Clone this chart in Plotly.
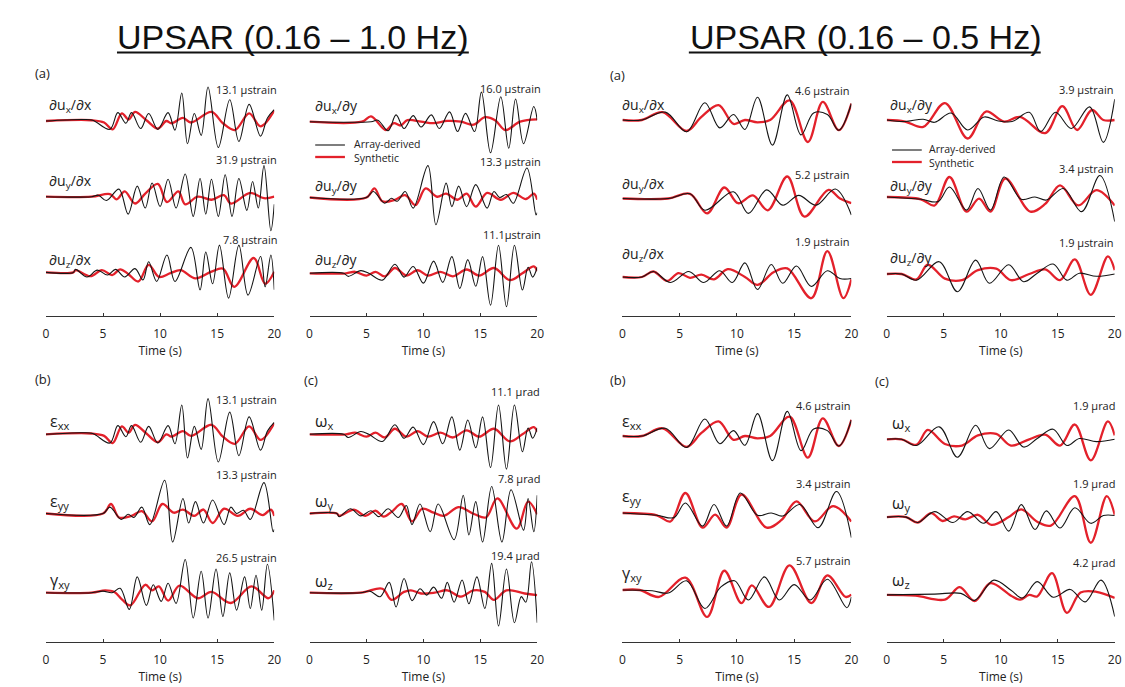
import plotly.graph_objects as go

W, H = 1125, 687
BLACK = "#151515"
RED = "#e3212b"
FONT = "Open Sans"

# ---------------- data: (time [s], amplitude normalised to row spacing) ----------------
# ===== Left half: UPSAR 0.16-1.0 Hz =====
L_dux_dx_black = [(0, 0), (3.2, 0.02), (4.1, 0.01), (5.6, -0.11), (6.3, 0.11), (7.0, -0.03), (7.5, 0.11), (8.3, -0.10),
                  (9.0, 0.10), (9.8, -0.11), (10.7, 0.11), (11.3, -0.12), (11.9, 0.37), (12.4, -0.30), (13.0, 0.10),
                  (13.6, -0.19), (14.2, 0.45), (15.1, -0.35), (16.1, 0.28), (16.9, -0.27), (17.8, 0.22), (18.8, -0.20),
                  (19.4, 0.04), (20, 0.15)]
L_dux_dx_red = [(0, 0), (4.0, 0.01), (5.1, -0.02), (5.85, -0.11), (6.65, 0.10), (7.25, 0.02), (7.8, 0.12), (8.8, 0.01),
                (9.8, -0.10), (10.55, 0.0), (11.0, -0.03), (12.0, 0.04), (12.7, -0.02), (14.5, 0.12), (15.5, -0.03),
                (16.55, -0.12), (17.8, 0.10), (18.8, -0.07), (20, 0.14)]
L_duy_dx_black = [(0, 0), (4.0, 0), (4.6, 0.02), (5.3, -0.05), (6.4, 0.10), (7.2, -0.23), (8.0, 0.14), (8.7, -0.15),
                  (9.3, 0.18), (10.0, -0.13), (10.7, 0.23), (11.4, -0.15), (12.2, 0.30), (12.9, -0.26), (13.5, 0.24),
                  (14.0, -0.23), (14.5, 0.23), (15.1, -0.26), (15.7, 0.29), (16.3, -0.26), (16.9, 0.24), (17.6, -0.18),
                  (18.1, 0.20), (18.6, -0.15), (19.1, 0.41), (19.7, -0.45), (20, -0.10)]
L_duy_dx_red = [(0, 0), (4.0, 0), (5.6, 0.035), (6.2, -0.035), (6.9, 0.07), (7.8, -0.09), (8.7, 0.04), (9.8, 0.17),
                (10.6, -0.07), (11.6, 0.07), (12.2, -0.10), (13.3, 0.0), (14.5, -0.04), (15.6, 0.02), (16.2, -0.09),
                (17.9, 0.05), (19.1, -0.02), (20, 0)]
L_duz_dx_black = [(0, 0), (2.4, 0), (2.6, 0.04), (3.6, -0.06), (4.5, 0.03), (5.4, -0.035), (6.1, 0.04), (6.9, -0.06),
                  (7.8, 0.05), (8.5, -0.10), (9.0, 0.14), (9.7, -0.12), (10.6, 0.23), (11.3, -0.12), (12.7, 0.33),
                  (13.5, -0.23), (14.0, 0.27), (14.6, -0.15), (15.2, 0.36), (16.0, -0.34), (16.9, 0.36), (17.7, -0.30),
                  (18.8, 0.21), (19.2, -0.19), (19.7, 0.23), (20, -0.23)]
L_duz_dx_red = [(0, 0), (2.4, 0), (2.6, 0.03), (3.9, -0.05), (4.9, 0.03), (5.8, -0.035), (6.5, 0.04), (7.2, -0.02),
                (8.1, -0.12), (9.0, 0.10), (9.9, -0.06), (10.9, -0.01), (11.8, 0.03), (13.1, -0.08), (14.5, 0.01),
                (15.5, 0.05), (16.5, -0.19), (18.2, 0.19), (19.2, -0.15), (20, 0.01)]
L_dux_dy_black = [(0, 0), (5.4, 0), (6.0, 0.02), (6.9, -0.12), (7.6, 0.09), (8.3, -0.09), (9.1, 0.08), (9.8, -0.07),
                  (10.7, 0.09), (11.4, -0.09), (12.3, 0.13), (13.0, -0.13), (13.7, 0.11), (14.5, -0.13), (15.1, 0.39),
                  (15.9, -0.41), (16.8, 0.33), (17.5, -0.35), (18.1, 0.30), (18.8, -0.29), (19.7, 0.20), (20, 0.02)]
L_dux_dy_red = [(0, 0), (4.6, 0), (5.4, 0.07), (6.7, -0.11), (7.4, -0.02), (8.0, -0.05), (8.6, 0.02), (9.8, 0.0),
                (10.9, -0.02), (12.1, 0.01), (13.3, 0.0), (14.4, -0.04), (15.4, 0.06), (16.3, 0.02), (17.2, -0.11),
                (18.5, 0.0), (20, 0.03)]
L_duy_dy_black = [(0, 0), (5.0, 0), (5.6, 0.08), (6.6, -0.075), (7.2, -0.01), (7.7, -0.05), (8.4, 0.08), (9.1, -0.14),
                  (10.4, 0.42), (11.1, -0.36), (12.0, 0.19), (12.5, -0.12), (13.1, 0.15), (13.8, -0.12), (14.6, 0.17),
                  (15.6, -0.14), (16.2, 0.08), (16.7, 0.0), (17.3, 0.04), (17.9, -0.075), (19.1, 0.39), (19.9, -0.23),
                  (20, -0.20)]
L_duy_dy_red = [(0, 0), (5.0, 0), (5.7, 0.12), (6.4, -0.05), (7.5, -0.03), (8.4, 0.03), (9.3, -0.10), (10.2, 0.12),
                (11.2, 0.01), (12.0, 0.05), (13.0, -0.03), (13.8, 0.05), (14.6, -0.12), (15.6, 0.06), (16.8, -0.03),
                (17.9, 0.06), (19.0, -0.02), (19.7, 0.05), (20, -0.03)]
L_duz_dy_black = [(0, 0), (3.0, 0), (3.4, -0.04), (4.5, 0.035), (5.2, 0.0), (6.4, -0.09), (7.5, 0.12), (8.3, -0.05),
                  (9.1, 0.09), (10.0, -0.13), (10.9, 0.16), (11.7, -0.12), (12.5, 0.22), (13.2, -0.20), (13.9, 0.18),
                  (14.6, -0.17), (15.2, 0.22), (15.9, -0.42), (16.6, 0.37), (17.3, -0.44), (18.0, 0.37), (18.7, -0.22),
                  (19.2, 0.08), (19.6, -0.05), (20, 0.08)]
L_duz_dy_red = [(0, 0), (3.2, 0), (4.0, 0.02), (5.0, -0.03), (5.8, 0.02), (6.6, -0.04), (7.5, 0.07), (8.5, -0.03),
                (9.5, 0.04), (10.4, -0.03), (11.5, 0.02), (12.6, -0.04), (13.8, 0.05), (14.9, -0.03), (16.2, 0.07),
                (17.6, -0.09), (18.7, 0.0), (19.7, 0.09), (20, 0.03)]
L_gxy_black = [(0, 0), (4.0, 0), (5.0, 0.02), (5.8, 0.0), (6.5, 0.055), (7.3, -0.21), (8.0, 0.20), (8.8, -0.16),
               (9.4, 0.10), (10.1, -0.11), (10.7, 0.12), (11.4, -0.135), (12.2, 0.42), (12.9, -0.32), (13.6, 0.27),
               (14.2, -0.32), (14.9, 0.30), (15.5, -0.30), (16.1, 0.25), (16.7, -0.22), (17.4, 0.20), (17.9, -0.20),
               (18.4, 0.22), (18.9, -0.22), (19.4, 0.36), (20, -0.35)]
L_gxy_red = [(0, 0), (4.0, 0), (5.2, 0.03), (6.0, 0.01), (6.7, -0.09), (7.4, -0.16), (8.7, 0.10), (9.3, 0.03),
             (9.9, 0.08), (10.7, -0.10), (11.7, 0.09), (13.3, -0.07), (14.5, 0.01), (16.2, -0.13), (18.0, 0.08),
             (19.5, -0.07), (20, 0.03)]
L_omega_y_black = [(0, 0), (2.4, 0), (2.6, -0.04), (3.6, 0.06), (4.5, -0.03), (5.4, 0.035), (6.1, -0.04), (6.9, 0.06),
                   (7.8, -0.05), (8.5, 0.10), (9.0, -0.14), (9.7, 0.12), (10.6, -0.23), (11.3, 0.12), (12.7, -0.33),
                   (13.5, 0.23), (14.0, -0.27), (14.6, 0.15), (15.2, -0.36), (16.0, 0.34), (16.9, -0.36), (17.7, 0.30),
                   (18.8, -0.21), (19.2, 0.19), (19.7, -0.23), (20, 0.23)]
L_omega_y_red = [(0, 0), (2.4, 0), (2.6, -0.03), (3.9, 0.05), (4.9, -0.03), (5.8, 0.035), (6.5, -0.04), (7.2, 0.02),
                 (8.1, 0.12), (9.0, -0.10), (9.9, 0.06), (10.9, 0.01), (11.8, -0.03), (13.1, 0.08), (14.5, -0.01),
                 (15.5, -0.05), (16.5, 0.19), (18.2, -0.19), (19.2, 0.15), (20, -0.01)]
L_omega_z_black = [(0, 0), (4.5, 0), (5.3, 0.02), (6.2, -0.05), (7.0, 0.13), (7.6, -0.18), (8.3, 0.18), (9.0, -0.10),
                   (9.7, 0.05), (10.3, -0.03), (10.9, 0.07), (11.6, -0.07), (12.1, 0.13), (12.7, -0.12), (13.4, 0.16),
                   (14.0, -0.14), (14.7, 0.20), (15.4, -0.20), (16.0, 0.37), (16.6, -0.42), (17.3, 0.30), (18.0, -0.38),
                   (18.6, -0.05), (19.0, -0.12), (19.5, 0.39), (20, -0.38)]
L_omega_z_red = [(0, 0), (4.5, 0), (6.4, 0.05), (7.2, -0.09), (8.3, 0.01), (8.9, 0.03), (9.8, -0.01), (11.0, 0.0),
                 (12.1, 0.03), (13.3, -0.05), (14.4, 0.03), (15.4, 0.01), (16.2, -0.09), (17.3, 0.03), (18.9, -0.01),
                 (20, -0.03)]

# ===== Right half: UPSAR 0.16-0.5 Hz =====
R_dux_dx_black = [(0, 0), (1.7, 0.0), (3.75, 0.10), (5.6, -0.15), (7.2, 0.22), (8.5, -0.10), (9.7, 0.07), (10.7, -0.12),
                  (11.8, 0.29), (13.1, -0.32), (14.4, 0.32), (15.6, -0.19), (16.7, 0.09), (17.9, 0.07), (18.9, -0.13),
                  (20, 0.21)]
R_dux_dx_red = [(0, 0), (1.7, 0.0), (3.5, 0.10), (5.6, -0.14), (6.9, 0.04), (8.4, 0.19), (9.7, -0.05), (10.7, 0.0),
                (11.8, -0.03), (12.9, 0.0), (14.6, 0.25), (16.2, -0.28), (17.5, 0.23), (18.9, -0.13), (20, 0.21)]
R_duy_dx_black = [(0, 0), (4.0, 0), (5.9, 0.06), (7.2, -0.15), (9.7, 0.085), (11.0, -0.19), (12.6, 0.11), (14.0, -0.085),
                  (15.4, 0.04), (16.9, -0.085), (18.6, 0.12), (20, -0.21)]
R_duy_dx_red = [(0, 0), (4.0, 0), (5.9, 0.06), (7.4, -0.19), (8.9, 0.14), (10.1, -0.06), (11.4, 0.04), (12.7, -0.15),
                (14.4, 0.28), (15.9, -0.23), (18.0, 0.11), (19.0, 0.0), (20, -0.06)]
R_duz_dx_black = [(0, 0), (1.7, 0), (2.7, 0.07), (4.2, -0.07), (5.8, 0.07), (7.1, -0.07), (8.5, 0.08), (9.6, -0.07),
                  (10.7, 0.18), (11.8, -0.16), (13.0, 0.16), (14.0, -0.08), (15.2, 0.14), (16.5, -0.12), (17.9, 0.08),
                  (19.0, -0.02), (20, -0.02)]
R_duz_dx_red = [(0, 0), (1.7, 0), (2.7, 0.07), (3.9, -0.05), (4.9, 0.05), (5.9, -0.01), (6.9, 0.03), (8.0, -0.03),
                (9.2, 0.10), (10.7, 0.0), (11.8, -0.10), (13.2, 0.06), (14.4, 0.11), (16.5, -0.27), (17.9, 0.33),
                (19.3, -0.27), (20, -0.03)]
R_dux_dy_black = [(0, 0), (1.6, -0.02), (3.2, 0.01), (4.2, -0.03), (5.65, 0.09), (7.1, -0.13), (8.55, 0.04), (9.7, -0.01),
                  (11.0, -0.02), (12.5, 0.10), (13.5, -0.15), (14.8, 0.10), (16.2, -0.11), (17.8, 0.17), (19.0, -0.29),
                  (20, 0.27)]
R_dux_dy_red = [(0, 0), (1.6, -0.02), (3.2, -0.09), (5.1, 0.22), (7.1, -0.24), (8.7, 0.11), (10.3, -0.02), (11.7, 0.04),
                (13.9, -0.17), (15.4, 0.18), (16.7, -0.13), (18.0, 0.13), (19.0, 0.0), (20, 0.0)]
R_duy_dy_black = [(0, 0), (3.0, -0.03), (4.5, -0.06), (5.5, 0.13), (7.0, -0.17), (8.0, 0.11), (9.1, -0.17), (10.3, 0.26),
                  (11.8, -0.03), (13.0, 0.0), (14.0, -0.04), (15.5, 0.11), (17.1, -0.19), (18.7, 0.28), (20, -0.32)]
R_duy_dy_red = [(0, 0), (3.0, -0.03), (4.2, -0.11), (5.5, 0.26), (7.0, -0.19), (8.1, -0.02), (9.1, -0.19), (10.4, 0.24),
                (12.6, -0.19), (13.9, -0.09), (15.2, 0.15), (16.8, -0.11), (18.4, 0.09), (20, -0.11)]
R_duz_dy_black = [(0, 0), (1.3, 0.0), (2.6, -0.08), (4.6, 0.16), (6.2, -0.23), (7.8, 0.18), (9.0, -0.12), (10.7, 0.12),
                  (12.0, -0.10), (13.2, 0.01), (14.6, 0.13), (15.8, -0.08), (16.9, 0.01), (18.4, -0.03), (20, 0.0)]
R_duz_dy_red = [(0, 0), (1.3, 0.0), (2.6, -0.07), (3.6, 0.12), (5.1, -0.06), (6.6, -0.08), (8.0, 0.05), (9.6, 0.07),
                (10.9, -0.08), (12.5, 0.0), (13.9, 0.06), (15.2, -0.08), (16.5, 0.19), (17.9, -0.27), (19.4, 0.23),
                (20, 0.05)]
R_gxy_black = [(0, 0), (2.6, -0.01), (4.0, -0.04), (5.6, 0.12), (7.2, -0.24), (8.6, 0.04), (9.8, 0.12), (11.0, -0.13),
               (12.4, 0.17), (13.7, -0.13), (15.0, 0.07), (16.4, -0.13), (17.9, 0.14), (19.6, -0.23), (20, -0.09)]
R_gxy_red = [(0, 0), (1.5, 0), (3.2, -0.09), (5.5, 0.16), (7.4, -0.35), (8.9, 0.25), (10.4, -0.17), (11.3, 0.06),
             (12.8, -0.22), (14.6, 0.32), (16.5, -0.17), (17.9, 0.19), (19.5, -0.09), (20, -0.06)]
R_omega_y_black = [(0, 0), (1.7, 0), (2.7, -0.07), (4.2, 0.07), (5.8, -0.07), (7.1, 0.07), (8.5, -0.08), (9.6, 0.07),
                   (10.7, -0.18), (11.8, 0.16), (13.0, -0.16), (14.0, 0.08), (15.2, -0.14), (16.5, 0.12), (17.9, -0.08),
                   (19.0, 0.02), (20, 0.02)]
R_omega_y_red = [(0, 0), (1.7, 0), (2.7, -0.07), (3.9, 0.05), (4.9, -0.05), (5.9, 0.01), (6.9, -0.03), (8.0, 0.03),
                 (9.2, -0.10), (10.7, 0.0), (11.8, 0.10), (13.2, -0.06), (14.4, -0.11), (16.5, 0.27), (17.9, -0.33),
                 (19.3, 0.27), (20, 0.03)]
R_omega_z_black = [(0, 0), (4.2, 0.01), (6.5, 0.02), (7.7, -0.07), (9.4, 0.19), (10.9, 0.06), (11.9, -0.04), (13.2, 0.17),
                   (14.6, -0.03), (16.1, 0.07), (17.4, -0.09), (18.8, 0.19), (20, -0.28)]
R_omega_z_red = [(0, 0), (2.5, -0.01), (5.1, -0.06), (6.4, 0.10), (7.7, -0.08), (9.1, 0.15), (10.9, -0.01), (11.7, -0.06),
                 (12.5, 0.0), (13.2, -0.02), (14.5, 0.28), (15.8, -0.23), (17.0, 0.03), (18.4, 0.04), (20, -0.04)]

# strain = gradient identities: eps_xx = dux/dx, eps_yy = duy/dy, omega_x = duz/dy (same records)
TICKS = [0, 5, 10, 15, 20]

# ---------------- panel layout (pixel geometry) ----------------
panels = [
    dict(xpx=(43.3, 273.7), ypx=(68, 316), base=121.0, unit=75.7, lab_x=44, lab_y=[105, 181.7, 260], lab_size=14,
         amp_x=278, amp_y=[89, 159, 240],
         rows=[("∂u<sub>x</sub>/∂x", "13.1 μstrain", L_dux_dx_black, L_dux_dx_red),
               ("∂u<sub>y</sub>/∂x", "31.9 μstrain", L_duy_dx_black, L_duy_dx_red),
               ("∂u<sub>z</sub>/∂x", "7.8 μstrain", L_duz_dx_black, L_duz_dx_red)]),
    dict(xpx=(309.3, 539.0), ypx=(68, 316), base=121.7, unit=75.8, lab_x=313, lab_y=[106.7, 186.7, 260], lab_size=14,
         amp_x=545, amp_y=[88, 161.7, 235],
         rows=[("∂u<sub>x</sub>/∂y", "16.0 μstrain", L_dux_dy_black, L_dux_dy_red),
               ("∂u<sub>y</sub>/∂y", "13.3 μstrain", L_duy_dy_black, L_duy_dy_red),
               ("∂u<sub>z</sub>/∂y", "11.1μstrain", L_duz_dy_black, L_duz_dy_red)]),
    dict(xpx=(43.3, 273.7), ypx=(380, 642), base=434.3, unit=79.2, lab_x=45, lab_y=[421.7, 501.7, 580.7], lab_size=16,
         amp_x=278, amp_y=[399, 474, 557],
         rows=[("ε<sub>xx</sub>", "13.1 μstrain", L_dux_dx_black, L_dux_dx_red),
               ("ε<sub>yy</sub>", "13.3 μstrain", L_duy_dy_black, L_duy_dy_red),
               ("γ<sub>xy</sub>", "26.5 μstrain", L_gxy_black, L_gxy_red)]),
    dict(xpx=(309.3, 539.0), ypx=(380, 642), base=434.3, unit=79.2, lab_x=313, lab_y=[421.7, 501.7, 581.7], lab_size=16,
         amp_x=544, amp_y=[391.7, 478, 555],
         rows=[("ω<sub>x</sub>", "11.1 μrad", L_duz_dy_black, L_duz_dy_red),
               ("ω<sub>y</sub>", "7.8 μrad", L_omega_y_black, L_omega_y_red),
               ("ω<sub>z</sub>", "19.4 μrad", L_omega_z_black, L_omega_z_red)]),
    dict(xpx=(625.0, 856.0), ypx=(68, 316), base=120.0, unit=78.5, lab_x=623, lab_y=[105, 185, 255], lab_size=14,
         amp_x=856, amp_y=[90.7, 175, 241.7],
         rows=[("∂u<sub>x</sub>/∂x", "4.6 μstrain", R_dux_dx_black, R_dux_dx_red),
               ("∂u<sub>y</sub>/∂x", "5.2 μstrain", R_duy_dx_black, R_duy_dx_red),
               ("∂u<sub>z</sub>/∂x", "1.9 μstrain", R_duz_dx_black, R_duz_dx_red)]),
    dict(xpx=(891.7, 1121.7), ypx=(68, 316), base=120.0, unit=77.0, lab_x=893, lab_y=[105, 186.7, 258], lab_size=14,
         amp_x=1122, amp_y=[89, 168, 242.7],
         rows=[("∂u<sub>x</sub>/∂y", "3.9 μstrain", R_dux_dy_black, R_dux_dy_red),
               ("∂u<sub>y</sub>/∂y", "3.4 μstrain", R_duy_dy_black, R_duy_dy_red),
               ("∂u<sub>z</sub>/∂y", "1.9 μstrain", R_duz_dy_black, R_duz_dy_red)]),
    dict(xpx=(625.0, 856.0), ypx=(380, 642), base=436.0, unit=77.0, lab_x=623, lab_y=[421.7, 496.7, 573], lab_size=16,
         amp_x=856.7, amp_y=[405, 483, 560.7],
         rows=[("ε<sub>xx</sub>", "4.6 μstrain", R_dux_dx_black, R_dux_dx_red),
               ("ε<sub>yy</sub>", "3.4 μstrain", R_duy_dy_black, R_duy_dy_red),
               ("γ<sub>xy</sub>", "5.7 μstrain", R_gxy_black, R_gxy_red)]),
    dict(xpx=(891.7, 1121.7), ypx=(380, 642), base=439.3, unit=77.8, lab_x=895, lab_y=[423, 503, 580], lab_size=16,
         amp_x=1124, amp_y=[405, 483, 562.7],
         rows=[("ω<sub>x</sub>", "1.9 μrad", R_duz_dy_black, R_duz_dy_red),
               ("ω<sub>y</sub>", "1.9 μrad", R_omega_y_black, R_omega_y_red),
               ("ω<sub>z</sub>", "4.2 μrad", R_omega_z_black, R_omega_z_red)]),
]


def px(x):
    return x / W


def py(y):
    return 1 - y / H


fig = go.Figure()
layout = {}
annotations = []
shapes = []

for i, p in enumerate(panels):
    n = i + 1
    xa = "xaxis" if n == 1 else f"xaxis{n}"
    ya = "yaxis" if n == 1 else f"yaxis{n}"
    xr = "x" if n == 1 else f"x{n}"
    yr = "y" if n == 1 else f"y{n}"
    x0, x1 = p["xpx"]
    top, axis = p["ypx"]
    layout[xa] = dict(domain=[px(x0), px(x1)], range=[0, 20], anchor=yr, showline=True, linecolor="#333",
                      linewidth=1.4, ticks="inside", ticklen=3, tickwidth=1.2, tickcolor="#333", tickvals=TICKS,
                      ticktext=[str(t) for t in TICKS], tickfont=dict(size=12, color="#222", family=FONT),
                      ticklabelstandoff=6,
                      title=dict(text="Time (s)", font=dict(size=12, color="#222", family=FONT), standoff=2),
                      showgrid=False, zeroline=False, fixedrange=True)
    layout[ya] = dict(domain=[py(axis), py(top)],
                      range=[-(axis - p["base"]) / p["unit"], (p["base"] - top) / p["unit"]],
                      anchor=xr, visible=False, fixedrange=True)
    for k, (lab, amp, blk, red) in enumerate(p["rows"]):
        for arr, color, w in ((red, RED, 2.3), (blk, BLACK, 1.1)):
            t = [a[0] for a in arr]
            v = [a[1] - k for a in arr]
            fig.add_trace(go.Scatter(x=t, y=v, mode="lines", xaxis=xr, yaxis=yr, showlegend=False,
                                     hoverinfo="skip",
                                     line=dict(color=color, width=w, shape="spline", smoothing=1.0)))
        annotations.append(dict(x=px(p["lab_x"]), y=py(p["lab_y"][k]), xref="paper", yref="paper", text=lab,
                                showarrow=False, xanchor="left", yanchor="middle",
                                font=dict(size=p["lab_size"], color="#222", family=FONT)))
        annotations.append(dict(x=px(p["amp_x"]), y=py(p["amp_y"][k]), xref="paper", yref="paper", text=amp,
                                showarrow=False, xanchor="right", yanchor="middle",
                                font=dict(size=11, color="#222", family=FONT)))

# titles
for cx, txt, ux0, ux1 in ((292, "UPSAR (0.16 – 1.0 Hz)", 115, 470), (870, "UPSAR (0.16 – 0.5 Hz)", 692, 1047)):
    annotations.append(dict(x=px(cx), y=py(37), xref="paper", yref="paper", text=txt, showarrow=False,
                            xanchor="center", yanchor="middle",
                            font=dict(size=34, color="#111", family="Liberation Sans")))
    shapes.append(dict(type="line", xref="paper", yref="paper", x0=px(ux0), x1=px(ux1), y0=py(52.5), y1=py(52.5),
                       line=dict(color="#111", width=2.2)))

# panel letters
for lx, ly, txt in ((30, 73, "(a)"), (610, 75, "(a)"), (30, 379, "(b)"), (302, 380, "(c)"),
                    (610, 380, "(b)"), (878, 381, "(c)")):
    annotations.append(dict(x=px(lx), y=py(ly), xref="paper", yref="paper", text=txt, showarrow=False,
                            xanchor="left", yanchor="middle", font=dict(size=13, color="#222", family=FONT)))

# legends (one text block per legend so the two entries do not collide)
for lx0, lx1, ly0, ly1, tx in ((315, 345, 145, 157, 352), (897, 927, 150, 162, 932)):
    shapes.append(dict(type="line", xref="paper", yref="paper", x0=px(lx0), x1=px(lx1), y0=py(ly0), y1=py(ly0),
                       line=dict(color=BLACK, width=1.1)))
    shapes.append(dict(type="line", xref="paper", yref="paper", x0=px(lx0), x1=px(lx1), y0=py(ly1), y1=py(ly1),
                       line=dict(color=RED, width=2.3)))
    annotations.append(dict(x=px(tx), y=py((ly0 + ly1) / 2), xref="paper", yref="paper",
                            text="<span style='line-height:1'>Array-derived<br>Synthetic</span>", showarrow=False,
                            xanchor="left", yanchor="middle", align="left",
                            font=dict(size=10.5, color="#222", family=FONT)))

fig.update_layout(width=W, height=H, autosize=False, margin=dict(l=0, r=0, t=0, b=0),
                  paper_bgcolor="white", plot_bgcolor="white", showlegend=False,
                  annotations=annotations, shapes=shapes, **layout)

fig.write_html("out.html")
